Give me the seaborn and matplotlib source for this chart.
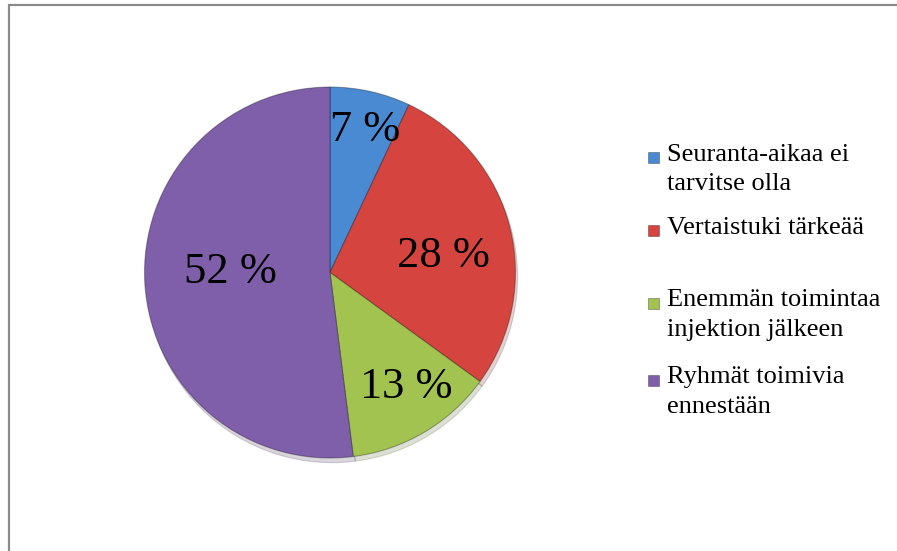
"""
Pie chart: feedback categories (percent shares).
"""

import matplotlib.pyplot as plt
import matplotlib.patches as mpatches
import seaborn as sns

categories = ["Seuranta-aikaa ei\ntarvitse olla",
              "Vertaistuki tärkeää",
              "Enemmän toimintaa\ninjektion jälkeen",
              "Ryhmät toimivia\nennestään"]
shares = [7, 28, 13, 52]
pct_labels = ["7 %", "28 %", "13 %", "52 %"]
colors = ["#4a8ad2", "#d6443f", "#a2c350", "#7f5fa9"]

# label anchor points (data units, pie radius = 1)
label_pos = [(0.189, 0.709), (0.609, 0.030), (0.41, -0.677), (-0.539, -0.057)]


def main():
    sns.set_style("white")
    plt.rcParams["font.family"] = ["Liberation Serif", "DejaVu Serif"]

    fig = plt.figure(figsize=(8.97, 5.51), dpi=100)
    W, H = 897.0, 551.0

    # pie centre (330, 272.5) px, radius 185.5 px
    lim = 1.05
    half = 185.5 * lim
    ax = fig.add_axes([(330 - half) / W, (H - 272.5 - half) / H,
                       2 * half / W, 2 * half / H])

    wedges, _ = ax.pie(shares, colors=colors, startangle=90,
                       counterclock=False, radius=1.0,
                       wedgeprops=dict(edgecolor=(0, 0, 0, 0.3),
                                       linewidth=0.8),
                       shadow=dict(ox=0.008, oy=-0.018, shade=0.5,
                                   alpha=0.2))
    ax.set_xlim(-lim, lim)
    ax.set_ylim(-lim, lim)
    ax.set_aspect("equal")
    ax.axis("off")

    for txt, (x, y) in zip(pct_labels, label_pos):
        ax.text(x, y, txt, ha="center", va="baseline", fontsize=32,
                color="black")

    # legend, drawn by hand to match the uneven slot layout
    baselines = [163, 236, 309, 386]
    for lab, col, yb in zip(categories, colors, baselines):
        # top of text box placed so that the first baseline sits at yb
        fig.text(667 / W, 1 - (yb - 19.5) / H, lab, ha="left", va="top",
                 fontsize=19, linespacing=1.45, color="black")
        fig.add_artist(mpatches.Rectangle((648 / W, 1 - yb / H),
                                          11 / W, 11 / H,
                                          transform=fig.transFigure,
                                          facecolor=col,
                                          edgecolor=(0, 0, 0, 0.35),
                                          linewidth=0.6))

    # chart-area border (right and bottom edges run off the image)
    fig.add_artist(mpatches.Rectangle((8.5 / W, -0.1), 1.2,
                                      1.1 - 4.5 / H,
                                      transform=fig.transFigure,
                                      fill=False, edgecolor="#8a8a8a",
                                      linewidth=1.6))

    fig.savefig("out.png", dpi=100)


if __name__ == "__main__":
    main()
